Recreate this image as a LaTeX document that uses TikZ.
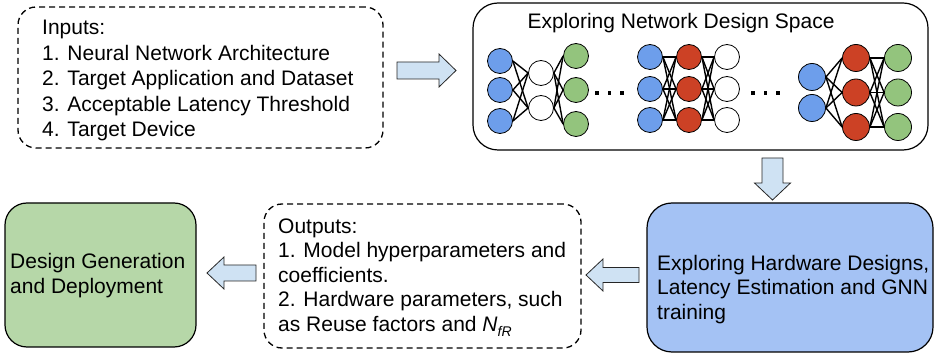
\documentclass[tikz,border=0pt]{standalone}
\usepackage{fontspec}
\setmainfont{Liberation Sans}
\definecolor{arrowfill}{HTML}{CFE2F3}
\definecolor{hwfill}{HTML}{A4C2F4}
\definecolor{gfill}{HTML}{B6D7A8}
\definecolor{nblue}{HTML}{6D9EEB}
\definecolor{nred}{HTML}{CC4125}
\definecolor{ngreen}{HTML}{93C47D}
\begin{document}
\begin{tikzpicture}[x=1pt,y=-1pt,
  dbox/.style={draw, line width=1.3pt, dash pattern=on 6pt off 4pt, rounded corners=18pt, inner sep=0},
  sbox/.style={draw, line width=1.2pt, rounded corners=25pt, inner sep=0},
  txt/.style={anchor=base west, inner sep=0, font=\fontsize{21}{25}\selectfont},
  barrow/.style={draw=black!85, line width=0.8pt, fill=arrowfill, line join=miter},
  neuron/.style={circle, draw, line width=0.8pt, minimum size=25pt, inner sep=0},
  bigneuron/.style={circle, draw, line width=0.8pt, minimum size=27pt, inner sep=0},
  edge/.style={line width=1.4pt},
  dot/.style={fill=black, minimum size=3.5pt, inner sep=0}]
\useasboundingbox (0,0) rectangle (935,355);

% boxes
\node[dbox, minimum width=365pt, minimum height=141pt] (inputs) at (200.5,77.5) {};
\node[sbox, minimum width=455pt, minimum height=147pt] (netspace) at (700.5,76.5) {};
\node[sbox, fill=hwfill, minimum width=286pt, minimum height=149pt] (hw) at (790,277.5) {};
\node[dbox, minimum width=317pt, minimum height=144pt] (outputs) at (422.5,276) {};
\node[sbox, fill=gfill, rounded corners=22pt, minimum width=191pt, minimum height=144pt] (deploy) at (100.5,275) {};

% texts
\node[txt] (in0) at (42,35) {Inputs:};
\node[txt] (in1) at (42,60.4) {1. Neural Network Architecture};
\node[txt] (in2) at (42,85.8) {2. Target Application and Dataset};
\node[txt] (in3) at (42,111.2) {3. Acceptable Latency Threshold};
\node[txt] (in4) at (42,136.6) {4. Target Device};

\node[txt, anchor=base] (title) at (681,29) {Exploring Network Design Space};

\node[txt] (hw1) at (657,270.5) {Exploring Hardware Designs,};
\node[txt] (hw2) at (657,295) {Latency Estimation and GNN};
\node[txt] (hw3) at (657,319.5) {training};

\node[txt] (out0) at (278,233.5) {Outputs:};
\node[txt] (out1) at (278,258) {1. Model hyperparameters and};
\node[txt] (out2) at (278,282.5) {coefficients.};
\node[txt] (out3) at (278,307) {2. Hardware parameters, such};
\node[txt] (out4) at (278,331.5) {as Reuse factors and \textit{N}\raisebox{-5pt}{\fontsize{14}{14}\selectfont\itshape fR}};

\node[txt] (dep1) at (10,269) {Design Generation};
\node[txt] (dep2) at (10,294) {and Deployment};

% block arrows
\draw[barrow] (397,62) -- (439,62) -- (439,54) -- (456,70.5) -- (439,87) -- (439,79) -- (397,79) -- cycle;
\draw[barrow] (762,158) -- (783,158) -- (783,183) -- (790.5,183) -- (772.5,200) -- (754.5,183) -- (762,183) -- cycle;
\draw[barrow] (639,267.5) -- (603,267.5) -- (603,259) -- (586,275) -- (603,291) -- (603,282.5) -- (639,282.5) -- cycle;
\draw[barrow] (256,265) -- (224,265) -- (224,257) -- (207,273) -- (224,289) -- (224,281) -- (256,281) -- cycle;

% network 1
\foreach \n/\y in {1/61,2/90,3/121} \node[neuron, fill=nblue] (aB\n) at (500,\y) {};
\foreach \n/\y in {1/73,2/108} \node[neuron, fill=white] (aW\n) at (541,\y) {};
\foreach \n/\y in {1/56,2/90,3/124} \node[neuron, fill=ngreen] (aG\n) at (576,\y) {};
\foreach \i in {1,2,3} \foreach \j in {1,2} {
  \draw[edge] (aB\i.east) -- (aW\j.west);
  \draw[edge] (aW\j.east) -- (aG\i.west);
}

% dots
\foreach \k/\x in {1/597,2/609.5,3/622} \node[dot] (d1\k) at (\x,93) {};
\foreach \k/\x in {1/753,2/765.5,3/778} \node[dot] (d2\k) at (\x,93) {};

% network 2
\foreach \n/\y in {1/57,2/89,3/120} {
  \node[neuron, fill=nblue] (bB\n) at (650,\y) {};
  \node[neuron, fill=nred] (bR\n) at (689,\y) {};
  \node[neuron, fill=white] (bW\n) at (727,\y) {};
}
\foreach \i in {1,2,3} \foreach \j in {1,2,3} {
  \draw[edge] (bB\i.east) -- (bR\j.west);
  \draw[edge] (bR\i.east) -- (bW\j.west);
}

% network 3
\foreach \n/\y in {1/77,2/108} \node[bigneuron, fill=nblue] (cB\n) at (812,\y) {};
\foreach \n/\y in {1/58,2/92.5,3/127} {
  \node[bigneuron, fill=nred] (cR\n) at (856,\y) {};
  \node[bigneuron, fill=ngreen] (cG\n) at (898,\y) {};
}
\foreach \i in {1,2,3} {
  \foreach \j in {1,2} \draw[edge] (cB\j.east) -- (cR\i.west);
  \foreach \j in {1,2,3} \draw[edge] (cR\i.east) -- (cG\j.west);
}
\end{tikzpicture}
\end{document}
